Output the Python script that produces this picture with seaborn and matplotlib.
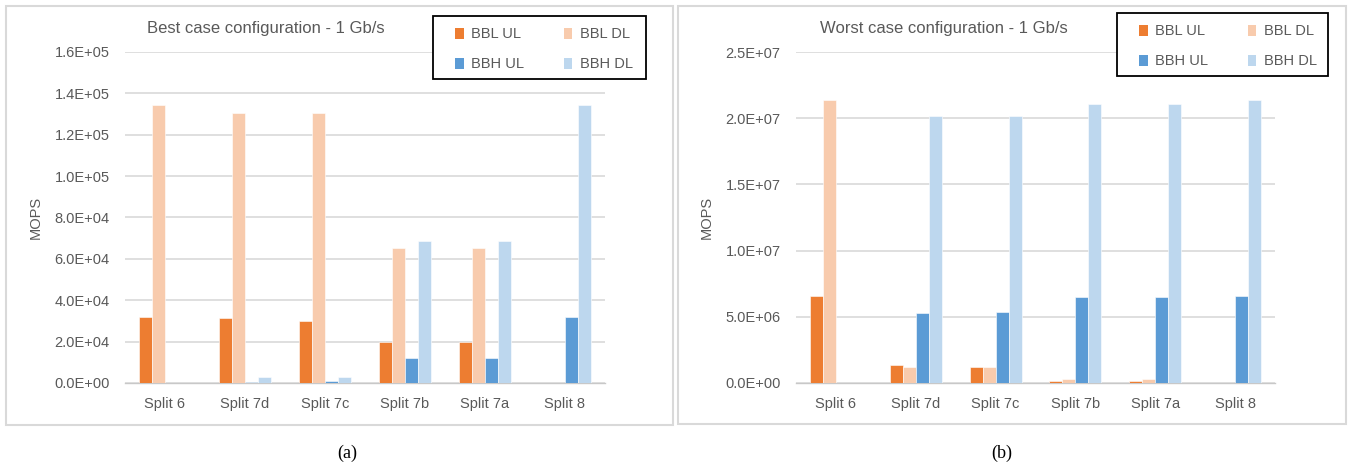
import numpy as np
import pandas as pd
import matplotlib
matplotlib.use("Agg")
import matplotlib.pyplot as plt
from matplotlib.patches import Patch, Rectangle
from matplotlib.ticker import FuncFormatter
import seaborn as sns

# ---- data -------------------------------------------------------------
splits = ["Split 6", "Split 7d", "Split 7c", "Split 7b", "Split 7a", "Split 8"]
series = ["BBL UL", "BBL DL", "BBH UL", "BBH DL"]

best_bbl_ul = [3.20e4, 3.13e4, 3.02e4, 2.00e4, 2.00e4, 0]
best_bbl_dl = [1.344e5, 1.307e5, 1.307e5, 6.53e4, 6.53e4, 0]
best_bbh_ul = [0, 700, 1100, 1.21e4, 1.21e4, 3.20e4]
best_bbh_dl = [0, 2900, 2900, 6.88e4, 6.88e4, 1.344e5]

worst_bbl_ul = [6.60e6, 1.33e6, 1.23e6, 1.2e5, 1.2e5, 0]
worst_bbl_dl = [2.14e7, 1.23e6, 1.23e6, 3.0e5, 3.0e5, 0]
worst_bbh_ul = [0, 5.29e6, 5.39e6, 6.52e6, 6.52e6, 6.60e6]
worst_bbh_dl = [0, 2.017e7, 2.017e7, 2.11e7, 2.11e7, 2.14e7]

colors = ["#ED7D31", "#F8CBAD", "#5B9BD5", "#BDD7EE"]
palette = dict(zip(series, colors))


def long_frame(cols):
    rows = []
    for name, vals in zip(series, cols):
        for s, v in zip(splits, vals):
            rows.append({"split": s, "series": name, "value": v})
    return pd.DataFrame(rows)


best_df = long_frame([best_bbl_ul, best_bbl_dl, best_bbh_ul, best_bbh_dl])
worst_df = long_frame([worst_bbl_ul, worst_bbl_dl, worst_bbh_ul, worst_bbh_dl])

# ---- styling ----------------------------------------------------------
sns.set_theme(style="white")
plt.rcParams["font.family"] = ["Liberation Sans Narrow", "Liberation Sans", "DejaVu Sans"]

W, H = 1350, 465
fig = plt.figure(figsize=(W / 100, H / 100), dpi=100)
fig.patch.set_facecolor("white")

TXT = "#595959"
GRID = "#D9D9D9"


def px_rect(x0, y0, x1, y1):
    """Convert a pixel box (top-left origin) into figure coordinates."""
    return [x0 / W, 1 - y1 / H, (x1 - x0) / W, (y1 - y0) / H]


def panel(df, axbox, ymax, ystep, title, title_xy, legend_box, caption, caption_x, border):
    # outer frame of the panel
    bx = px_rect(*border)
    fig.patches.append(Rectangle((bx[0], bx[1]), bx[2], bx[3], transform=fig.transFigure,
                                 fill=False, edgecolor=GRID, linewidth=1.5, zorder=0))

    ax = fig.add_axes(px_rect(*axbox))
    sns.barplot(data=df, x="split", y="value", hue="series", hue_order=series,
                order=splits, palette=palette, width=0.65, gap=0, ax=ax,
                legend=False, saturation=1, errorbar=None,
                edgecolor="white", linewidth=0.4)
    ax.set_ylim(0, ymax)
    ax.set_xlim(-0.5, len(splits) - 0.5)
    ax.set_yticks(np.arange(0, ymax + ystep / 2, ystep))
    ax.yaxis.set_major_formatter(FuncFormatter(lambda v, _: f"{v:.1E}"))
    ax.grid(axis="y", color=GRID, linewidth=1.2)
    ax.set_axisbelow(True)
    for side in ("top", "right", "left"):
        ax.spines[side].set_visible(False)
    ax.spines["bottom"].set_color("#C8C8C8")
    ax.spines["bottom"].set_linewidth(1.0)
    ax.spines["bottom"].set_zorder(0.5)
    ax.tick_params(axis="both", length=0, labelsize=10.5, labelcolor=TXT)
    ax.tick_params(axis="y", pad=11)
    ax.tick_params(axis="x", pad=10)
    ax.set_xlabel("")
    ax.set_ylabel("MOPS", color=TXT, fontsize=10.5)
    ax.yaxis.set_label_coords(-0.172, 0.5)

    fig.text(title_xy[0] / W, 1 - title_xy[1] / H, title, ha="center", va="center",
             fontsize=12, color=TXT)

    # legend box with two rows of two entries
    lb = px_rect(*legend_box)
    fig.patches.append(Rectangle((lb[0], lb[1]), lb[2], lb[3], transform=fig.transFigure,
                                 facecolor="white", edgecolor="black", linewidth=1.3, zorder=5))
    handles = [Patch(facecolor=palette[s], edgecolor="none") for s in series]
    order = [0, 2, 1, 3]
    leg = fig.legend([handles[i] for i in order], [series[i] for i in order],
                     loc="upper left",
                     bbox_to_anchor=((legend_box[0] + 12) / W, 1 - (legend_box[1] + 1) / H),
                     ncol=2, frameon=False, fontsize=10.5, handlelength=0.6,
                     handleheight=0.8, handletextpad=0.5, columnspacing=2.7,
                     labelspacing=1.1, borderpad=0.2)
    for t in leg.get_texts():
        t.set_color(TXT)
    leg.set_zorder(6)

    fig.text(caption_x / W, 1 - 453 / H, caption, ha="center", va="center",
             fontsize=13, family="Liberation Serif", color="black")
    return ax


panel(best_df, (125, 52, 605, 383), 1.6e5, 2e4,
      "Best case configuration - 1 Gb/s", (266, 29),
      (433, 16, 646, 79), "(a)", 347, (6, 6, 673, 425))

panel(worst_df, (796, 52, 1275, 383), 2.5e7, 5e6,
      "Worst case configuration - 1 Gb/s", (944, 29),
      (1117, 13, 1328, 76), "(b)", 1002, (678, 6, 1346, 424))

fig.savefig("out.png", dpi=100, facecolor="white")
